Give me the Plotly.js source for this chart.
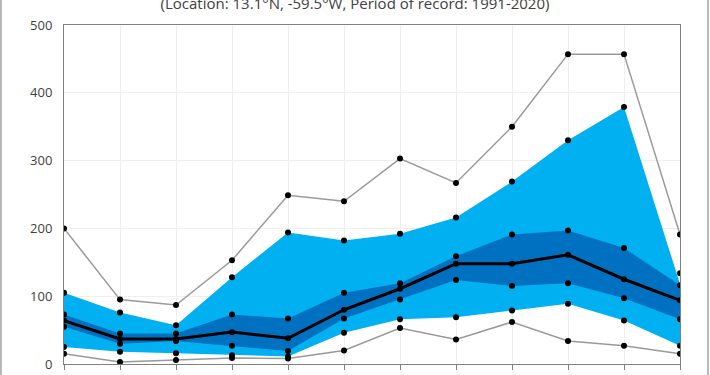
<!DOCTYPE html>
<html>
<head>
<meta charset="utf-8">
<script src="https://cdn.plot.ly/plotly-3.0.1.min.js"></script>
<style>html,body{margin:0;padding:0;background:#fff;}#chart{width:710px;height:375px;}</style>
</head>
<body>
<div id="chart"></div>
<script>
const months = ["Jan","Feb","Mar","Apr","May","Jun","Jul","Aug","Sep","Oct","Nov","Dec"];
const maxVals = [200, 95, 87, 153, 249, 240, 303, 267, 350, 457, 457, 191];
const p90 = [105, 76, 57, 128, 194, 182, 192, 216, 269, 330, 379, 134];
const p90Band = [105, 76, 57, 128, 194, 182, 192, 216, 269, 330, 379, 118];
const p75 = [73, 45, 45, 73, 67, 105, 119, 159, 191, 197, 171, 116];
const median = [64, 37, 37, 47, 38, 80, 111, 148, 148, 161, 125, 94];
const p25 = [55, 30, 34, 27, 19, 67, 95, 124, 115, 119, 97, 66];
const p10 = [25, 18, 16, 13, 11, 46, 66, 69, 79, 89, 64, 27];
const minVals = [15, 3, 6, 9, 8, 20, 53, 36, 62, 34, 27, 15];
const titleText = "(Location: 13.1°N, -59.5°W, Period of record: 1991-2020)";

const x = months.map((m, i) => i);
const dot = {color: "#000000", size: 6};
const clear = {width: 0, color: "rgba(0,0,0,0)"};
const traces = [
  {x: x, y: p10, mode: "lines", line: clear, hoverinfo: "skip", showlegend: false},
  {x: x, y: p90Band, mode: "lines", fill: "tonexty", fillcolor: "#00B0F0", line: clear, showlegend: false},
  {x: x, y: p25, mode: "lines", line: clear, hoverinfo: "skip", showlegend: false},
  {x: x, y: p75, mode: "lines", fill: "tonexty", fillcolor: "#0070C0", line: clear, showlegend: false},
  {x: x, y: maxVals, mode: "lines+markers", line: {color: "#999999", width: 1.5}, marker: dot, showlegend: false},
  {x: x, y: minVals, mode: "lines+markers", line: {color: "#999999", width: 1.5}, marker: dot, showlegend: false},
  {x: x, y: p90, mode: "markers", marker: dot, showlegend: false},
  {x: x, y: p75, mode: "markers", marker: dot, showlegend: false},
  {x: x, y: p25, mode: "markers", marker: dot, showlegend: false},
  {x: x, y: p10, mode: "markers", marker: dot, showlegend: false},
  {x: x, y: median, mode: "lines+markers", line: {color: "#000000", width: 3}, marker: dot, showlegend: false}
];

const layout = {
  width: 710, height: 375,
  margin: {l: 64, r: 30, t: 25, b: 11},
  paper_bgcolor: "#ffffff", plot_bgcolor: "#ffffff",
  font: {family: "Open Sans, sans-serif", size: 13, color: "#404040"},
  title: {text: titleText, x: 0.5, xanchor: "center", y: 0.99, yanchor: "middle", yref: "container",
          font: {family: "Open Sans, sans-serif", size: 15, color: "#404040"}},
  xaxis: {range: [0, 11], tickvals: x, ticktext: months, showgrid: true, gridcolor: "#EFEFEF",
          showline: true, linecolor: "#808080", linewidth: 1, mirror: true,
          ticks: "outside", ticklen: 5, tickcolor: "#808080", zeroline: false, fixedrange: true},
  yaxis: {range: [0, 500], dtick: 100, showgrid: true, gridcolor: "#EFEFEF",
          showline: true, linecolor: "#808080", linewidth: 1, mirror: true,
          ticks: "", ticklabelstandoff: 8, zeroline: false, fixedrange: true},
  shapes: [
    {type: "rect", xref: "paper", yref: "paper", x0: -0.1023, x1: 1.0455, y0: -0.2, y1: 1.3,
     line: {color: "#8C8C8C", width: 1.2}, fillcolor: "rgba(0,0,0,0)", layer: "above"}
  ]
};
Plotly.newPlot("chart", traces, layout, {displayModeBar: false, staticPlot: true});
</script>
</body>
</html>
